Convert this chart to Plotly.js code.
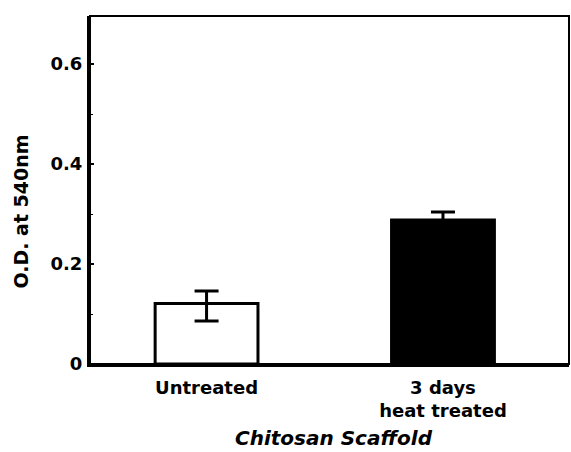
<!DOCTYPE html>
<html>
<head>
<meta charset="utf-8">
<script src="https://cdn.plot.ly/plotly-3.0.1.min.js"></script>
<style>html,body{margin:0;padding:0;background:#fff;}#chart{width:571px;height:452px;}</style>
</head>
<body>
<div id="chart"></div>
<script>
const categories = ["Untreated", "3 days<br>heat treated"];
const values = [0.121, 0.288];
const errorsPlus = [0.025, 0.016];
const errorsMinus = [0.035, 0.016];
const barFills = ["#ffffff", "#000000"];
const yTickVals = [0, 0.2, 0.4, 0.6];
const yTickText = ["0", "0.2", "0.4", "0.6"];
const yTitle = "O.D. at 540nm";
const xTitle = "Chitosan Scaffold";

const font = "DejaVu Sans, Arial, sans-serif";

const trace = {
  type: "bar",
  x: [0, 1],
  y: values,
  width: 0.435,
  marker: { color: barFills, line: { color: "#000", width: 3 } },
  error_y: { type: "data", symmetric: false, array: errorsPlus, arrayminus: errorsMinus, visible: true, color: "#000", thickness: 3, width: 12 },
  hoverinfo: "none"
};

const layout = {
  width: 571, height: 452,
  margin: { l: 90, r: 2, t: 16, b: 88 },
  paper_bgcolor: "#fff", plot_bgcolor: "#fff",
  showlegend: false,
  font: { family: font, color: "#000" },
  xaxis: {
    range: [-0.493, 1.533],
    tickmode: "array", tickvals: [0, 1], ticktext: categories,
    ticks: "", showgrid: false, zeroline: false,
    showline: true, linecolor: "#000", linewidth: 3,
    tickfont: { family: font, size: 18, color: "#000", weight: "bold" },
    ticklabelstandoff: 5
  },
  yaxis: {
    range: [0, 0.696],
    tickmode: "array", tickvals: yTickVals, ticktext: yTickText,
    ticks: "inside", ticklen: 4, tickwidth: 1.5, tickcolor: "#000",
    minor: { dtick: 0.1, tick0: 0, ticks: "inside", ticklen: 3, tickwidth: 1, tickcolor: "#000", showgrid: false },
    showgrid: false, zeroline: false,
    showline: true, linecolor: "#000", linewidth: 3,
    tickfont: { family: font, size: 18, color: "#000", weight: "bold" },
    ticklabelstandoff: 1
  },
  annotations: [
    { text: "<b>" + yTitle + "</b>", xref: "paper", yref: "paper", x: -0.145, y: 0.437,
      xanchor: "center", yanchor: "middle", textangle: -90, showarrow: false,
      font: { family: font, size: 19, color: "#000" } },
    { text: "<b><i>" + xTitle + "</i></b>", xref: "paper", yref: "paper", x: 0.51, y: -0.212,
      xanchor: "center", yanchor: "middle", showarrow: false,
      font: { family: font, size: 20, color: "#000" } }
  ],
  shapes: [
    { type: "rect", xref: "paper", yref: "paper", x0: 0, x1: 1, y0: 0, y1: 1, line: { color: "#000", width: 2 } }
  ]
};

Plotly.newPlot("chart", [trace], layout, { staticPlot: true, displayModeBar: false });
</script>
</body>
</html>
